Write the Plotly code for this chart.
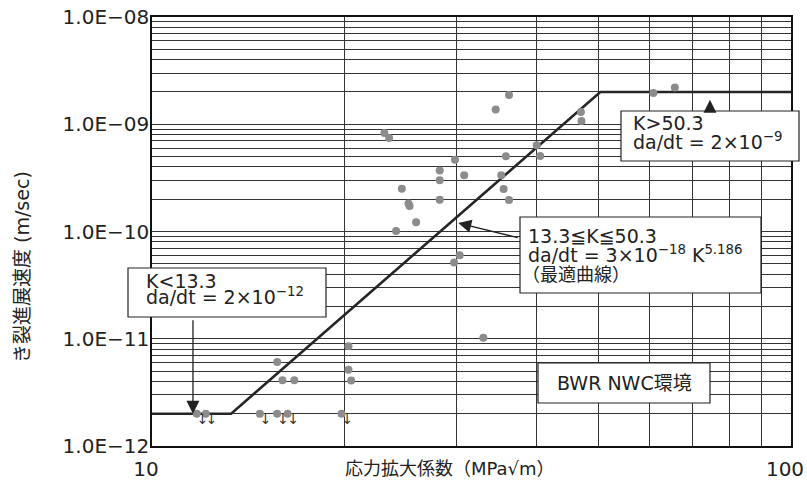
import plotly.graph_objects as go

# ---------------- data ----------------
K_measured = [36.2, 34.5, 23.1, 23.5, 40.0, 40.5, 35.8, 29.8, 28.2, 30.8, 35.2, 28.2,
              24.6, 35.5, 28.2, 36.2, 25.2, 25.3, 25.9, 24.1, 30.3, 29.7, 33.0,
              20.3, 20.3, 20.5, 15.7, 16.0, 16.7, 46.9, 47.0, 60.9, 65.8]
V_measured = [1.87e-9, 1.37e-9, 8.3e-10, 7.45e-10, 6.37e-10, 5.06e-10, 5.02e-10, 4.67e-10,
              3.70e-10, 3.34e-10, 3.34e-10, 3.0e-10, 2.51e-10, 2.49e-10, 1.98e-10, 1.97e-10,
              1.82e-10, 1.73e-10, 1.22e-10, 1.01e-10, 6.0e-11, 5.13e-11, 1.02e-11,
              8.5e-12, 5.15e-12, 4.07e-12, 6.07e-12, 4.1e-12, 4.1e-12, 1.30e-9, 1.07e-9,
              1.96e-9, 2.2e-9]

# points below detection limit (drawn with downward arrows)
K_censored = [11.75, 12.14, 14.75, 15.7, 16.3, 19.8]
V_censored = [2.0e-12, 2.0e-12, 2.0e-12, 2.0e-12, 2.0e-12, 2.0e-12]

# fitted (piecewise) crack growth curve vertices
fit_K = [10, 13.3, 50.3, 100]
fit_V = [2e-12, 2e-12, 2e-9, 2e-9]

x_tick_vals = [10, 100]
x_tick_text = ["10", "100"]
x_grid_vals = [20, 30, 40, 50, 60, 70, 80, 90]
y_tick_vals = [1e-12, 1e-11, 1e-10, 1e-9, 1e-8]
y_tick_text = ["1.0E−12", "1.0E−11", "1.0E−10", "1.0E−09", "1.0E−08"]
y_grid_vals = [m * 10.0 ** e for e in (-12, -11, -10, -9) for m in range(2, 10)]

# ---------------- figure ----------------
W, H = 807, 484
PL, PR, PT, PB = 152, 791, 17, 446          # plot area in page pixels
L, R, T, B = PL, W - PR, PT, H - PB
PW, PH = PR - PL, PB - PT

def px(x):
    return (x - PL) / PW

def py(y):
    return (PB - y) / PH

LATIN = "DejaVu Sans, Noto Sans CJK JP, sans-serif"
CJK = "Noto Sans CJK JP, sans-serif"
TXT = "#222222"
GRID = "#333333"

fig = go.Figure()

fig.add_trace(go.Scatter(x=fit_K, y=fit_V, mode="lines",
                         line=dict(color="#262626", width=2.6), hoverinfo="skip",
                         showlegend=False))
fig.add_trace(go.Scatter(x=K_measured, y=V_measured, mode="markers",
                         marker=dict(color="#8c8c8c", size=8), showlegend=False))
fig.add_trace(go.Scatter(x=K_censored, y=V_censored, mode="markers",
                         marker=dict(color="#8c8c8c", size=8), showlegend=False))
fig.add_trace(go.Scatter(x=K_censored, y=V_censored, mode="text", text=["↓"] * len(K_censored),
                         textposition="bottom right",
                         textfont=dict(family="DejaVu Sans", size=14, color="#333333"),
                         showlegend=False, cliponaxis=False))

boxes = [
    (128, 268, 326, 317),
    (520, 217, 761, 293),
    (538, 363, 710, 403),
    (621, 111, 799, 161),
]
shapes = []
for x0, y0, x1, y1 in boxes:
    shapes.append(dict(type="rect", xref="paper", yref="paper",
                       x0=px(x0), x1=px(x1), y0=py(y1), y1=py(y0),
                       line=dict(color="#222222", width=1.2), fillcolor="white",
                       layer="above"))

def label(text, x, y, size=19, xanchor="left", family=LATIN):
    return dict(text=text, xref="paper", yref="paper", x=px(x), y=py(y),
                xanchor=xanchor, yanchor="middle", showarrow=False,
                font=dict(family=family, size=size, color=TXT))

annotations = [
    label("K<13.3", 144, 281),
    label("da/dt = 2×10<sup>−12</sup>", 144, 296),
    label("13.3≦K≦50.3", 526, 236),
    label("da/dt = 3×10<sup>−18</sup> K<sup>5.186</sup>", 526, 254),
    label("（最適曲線）", 520, 273, family=CJK, size=18),
    label("BWR NWC環境", 624, 383, xanchor="center"),
    label("K>50.3", 631, 123),
    label("da/dt = 2×10<sup>−9</sup>", 631, 141),
    # axis titles
    label("応力拡大係数（MPa√m）", 450, 468, size=18, xanchor="center"),
    dict(text="き裂進展速度 (m/sec)", xref="paper", yref="paper", x=px(22), y=py(267),
         xanchor="center", yanchor="middle", textangle=-90, showarrow=False,
         font=dict(family=LATIN, size=19, color=TXT)),
    # arrows
    dict(x=1.0641, y=-11.699, xref="x", yref="y", text="", showarrow=True,
         ax=0, ay=-95, axref="pixel", ayref="pixel", arrowhead=2, arrowsize=2.0,
         arrowwidth=1.3, arrowcolor="#222222", standoff=0),
    dict(x=1.4793, y=-9.921, xref="x", yref="y", text="", showarrow=True,
         ax=61, ay=15, arrowhead=2, arrowsize=2.0, arrowwidth=1.3,
         arrowcolor="#222222", standoff=0),
    dict(x=1.8732, y=-8.772, xref="x", yref="y", text="", showarrow=True,
         ax=0, ay=12, arrowhead=2, arrowsize=2.0, arrowwidth=1.3,
         arrowcolor="#222222", standoff=0),
]

fig.update_layout(
    width=W, height=H,
    margin=dict(l=L, r=R, t=T, b=B, autoexpand=False),
    paper_bgcolor="white", plot_bgcolor="white",
    shapes=shapes, annotations=annotations,
    showlegend=False,
    xaxis=dict(type="log", range=[1, 2], tickvals=x_tick_vals, ticktext=x_tick_text,
               showgrid=False, zeroline=False, ticks="", ticklabelstandoff=4,
               ticklabeloverflow="allow", ticklabelshift=-6,
               showline=True, mirror=True, linecolor="#111111", linewidth=1.5,
               tickfont=dict(family=LATIN, size=20, color=TXT),
               minor=dict(tickvals=x_grid_vals, showgrid=True, gridcolor=GRID,
                          gridwidth=1, ticks="")),
    yaxis=dict(type="log", range=[-12, -8], tickvals=y_tick_vals, ticktext=y_tick_text,
               showgrid=True, gridcolor=GRID, gridwidth=1, zeroline=False, ticks="",
               ticklabeloverflow="allow",
               showline=True, mirror=True, linecolor="#111111", linewidth=1.5,
               tickfont=dict(family=LATIN, size=20, color=TXT), ticklabelstandoff=-3,
               minor=dict(tickvals=y_grid_vals, showgrid=True, gridcolor=GRID,
                          gridwidth=1, ticks="")),
)

fig.write_html("out.html", config={"displayModeBar": False},
               post_script="document.body.style.margin='0px';document.body.style.overflow='hidden';")
